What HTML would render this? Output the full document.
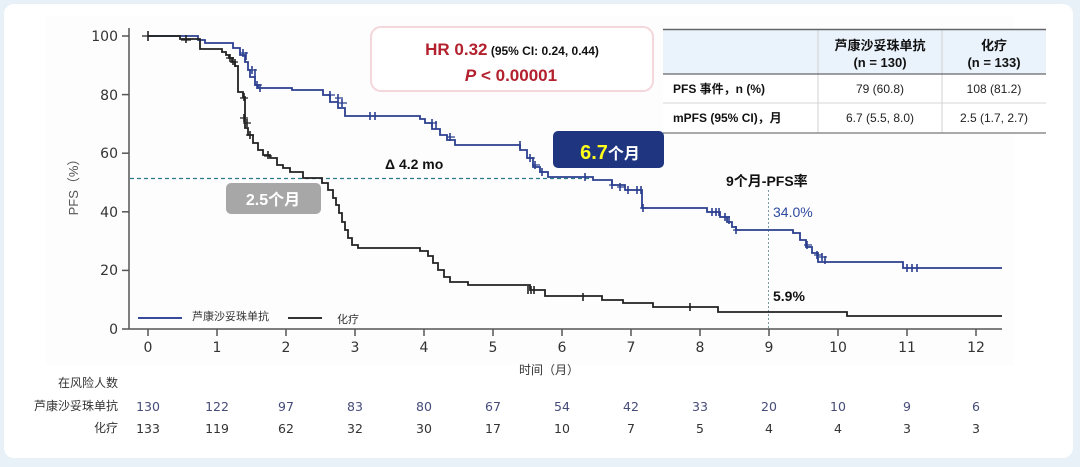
<!DOCTYPE html>
<html><head><meta charset="utf-8">
<style>
html,body{margin:0;padding:0;background:#e8f0f8;}
svg{display:block;}
.cn{font-family:"Liberation Sans","Noto Sans CJK SC",sans-serif;}
.dj{font-family:"DejaVu Sans","Liberation Sans",sans-serif;}
</style></head>
<body>
<svg width="1080" height="467" viewBox="0 0 1080 467" xmlns="http://www.w3.org/2000/svg">
<rect x="0" y="0" width="1080" height="467" fill="#e8f0f8"/>
<rect x="4" y="4" width="1069" height="454" rx="10" fill="#ffffff"/>
<rect x="46" y="16" width="968" height="349" fill="#fdfdfd"/>

<!-- HR box -->
<rect x="371" y="27" width="282" height="64" rx="10" fill="#fff" stroke="#f3d7da" stroke-width="2"/>
<text x="512" y="55" text-anchor="middle" class="cn" font-weight="bold"><tspan font-size="17" fill="#b3202e">HR 0.32</tspan><tspan font-size="12" fill="#111"> (95% CI: 0.24, 0.44)</tspan></text>
<text x="511" y="81" text-anchor="middle" class="cn" font-weight="bold" font-size="17" fill="#b3202e"><tspan font-style="italic">P</tspan> &lt; 0.00001</text>

<!-- Table -->
<rect x="663" y="29" width="383" height="104" fill="#ffffff"/>
<rect x="663" y="29" width="383" height="45" fill="#eaf3fc"/>
<line x1="818" y1="29" x2="818" y2="133" stroke="#d0d0d0" stroke-width="1"/>
<line x1="942" y1="29" x2="942" y2="133" stroke="#d0d0d0" stroke-width="1"/>
<line x1="663" y1="29.5" x2="1046" y2="29.5" stroke="#666" stroke-width="1.5"/>
<line x1="663" y1="74" x2="1046" y2="74" stroke="#666" stroke-width="1.2"/>
<line x1="663" y1="103" x2="1046" y2="103" stroke="#d4d4d4" stroke-width="1"/>
<line x1="663" y1="133" x2="1046" y2="133" stroke="#777" stroke-width="1.2"/>
<g class="cn" font-weight="bold" font-size="13" fill="#111" text-anchor="middle">
<text x="880" y="50">芦康沙妥珠单抗</text>
<text x="880" y="67">(n = 130)</text>
<text x="994" y="50">化疗</text>
<text x="994" y="67">(n = 133)</text>
</g>
<g class="cn" font-weight="bold" font-size="12" fill="#111">
<text x="673" y="93">PFS 事件，n (%)</text>
<text x="673" y="122">mPFS (95% CI)，月</text>
</g>
<g class="cn" font-size="12" fill="#222" text-anchor="middle">
<text x="880" y="93">79 (60.8)</text>
<text x="994" y="93">108 (81.2)</text>
<text x="880" y="122">6.7 (5.5, 8.0)</text>
<text x="994" y="122">2.5 (1.7, 2.7)</text>
</g>

<!-- Axes -->
<g stroke="#555" stroke-width="1.5" fill="none">
<line x1="129" y1="28" x2="129" y2="329.5"/>
<line x1="122" y1="329" x2="1002" y2="329"/>
<line x1="122" y1="36" x2="129" y2="36"/>
<line x1="122" y1="94.6" x2="129" y2="94.6"/>
<line x1="122" y1="153.2" x2="129" y2="153.2"/>
<line x1="122" y1="211.8" x2="129" y2="211.8"/>
<line x1="122" y1="270.4" x2="129" y2="270.4"/>
<line x1="148" y1="329" x2="148" y2="336"/>
<line x1="217" y1="329" x2="217" y2="336"/>
<line x1="286" y1="329" x2="286" y2="336"/>
<line x1="355" y1="329" x2="355" y2="336"/>
<line x1="424" y1="329" x2="424" y2="336"/>
<line x1="493" y1="329" x2="493" y2="336"/>
<line x1="562" y1="329" x2="562" y2="336"/>
<line x1="631" y1="329" x2="631" y2="336"/>
<line x1="700" y1="329" x2="700" y2="336"/>
<line x1="769" y1="329" x2="769" y2="336"/>
<line x1="838" y1="329" x2="838" y2="336"/>
<line x1="907" y1="329" x2="907" y2="336"/>
<line x1="976" y1="329" x2="976" y2="336"/>
</g>
<g class="dj" font-size="14" fill="#333" text-anchor="end">
<text x="118" y="41">100</text>
<text x="118" y="100">80</text>
<text x="118" y="158">60</text>
<text x="118" y="217">40</text>
<text x="118" y="275">20</text>
<text x="118" y="334">0</text>
</g>
<g class="dj" font-size="14" fill="#333" text-anchor="middle">
<text x="148" y="352">0</text>
<text x="217" y="352">1</text>
<text x="286" y="352">2</text>
<text x="355" y="352">3</text>
<text x="424" y="352">4</text>
<text x="493" y="352">5</text>
<text x="562" y="352">6</text>
<text x="631" y="352">7</text>
<text x="700" y="352">8</text>
<text x="769" y="352">9</text>
<text x="838" y="352">10</text>
<text x="907" y="352">11</text>
<text x="976" y="352">12</text>
</g>
<text x="549" y="374" text-anchor="middle" class="cn" font-size="12" fill="#333">时间（月）</text>
<text transform="translate(78,184) rotate(-90)" text-anchor="middle" class="cn" font-size="13" fill="#555">PFS（%）</text>

<!-- reference lines -->
<line x1="130" y1="178.5" x2="590" y2="178.5" stroke="#2a7a8c" stroke-width="1.2" stroke-dasharray="4,3"/>
<line x1="768.5" y1="190" x2="768.5" y2="329" stroke="#7a9aa8" stroke-width="1" stroke-dasharray="2,2"/>

<!-- curves -->
<path fill="none" stroke="#2b3f8f" stroke-width="1.8" d="M148,36 H198 V40 H205 V43 H233 V48 H240 V55 H245 V62 H248 V70 H250 V77 H255 V85 H258 V88 H292 V90 H323 V95 H330 V102 H338 V108 H345 V116 H420 V119 H425 V123 H432 V129 H440 V135 H447 V140 H455 V145 H520 V150 H527 V158 H533 V167 H540 V172 H548 V177 H593 V180 H612 V185 H625 V190 H642 V208 H707 V212 H720 V217 H727 V222 H732 V227 H736 V230 H793 V233 H800 V240 H806 V247 H812 V253 H818 V262 H903 V268 H1002"/>
<path fill="none" stroke="#222" stroke-width="1.8" d="M148,36 H180 V39 H200 V49 H222 V52 H226 V55 H229 V58 H232 V62 H235 V66 H238 V92 H243 V97 H245 V128 H248 V135 H253 V143 H258 V150 H263 V155 H270 V158 H277 V165 H283 V168 H290 V172 H303 V178 H322 V183 H328 V190 H333 V198 H336 V205 H339 V213 H342 V222 H345 V230 H348 V238 H352 V245 H358 V248 H420 V251 H428 V256 H433 V263 H438 V270 H444 V277 H450 V282 H468 V285 H530 V290 H545 V296 H602 V300 H623 V303 H653 V307 H718 V312 H847 V316 H1002"/>

<!-- censor marks blue -->
<g stroke="#2b3f8f" stroke-width="1.6">
<path d="M243,49v8 M246,52v8 M252,66v8 M255,69v8 M257,81v8 M260,84v8 M330,91v8 M338,94v8 M342,99v8 M370,112v8 M375,112v8 M432,119v8 M436,121v8 M450,133v8 M520,141v8 M530,154v8 M535,161v8 M542,168v8 M585,173v8 M612,181v8 M620,183v8 M628,186v8 M637,186v8 M641,186v8 M643,204v8 M712,208v8 M716,208v8 M719,208v8 M725,213v8 M729,216v8 M736,226v8 M807,241v8 M817,251v8 M822,253v8 M825,256v8 M907,264v8 M912,264v8 M917,264v8"/>
</g>
<g stroke="#2b3f8f" stroke-width="1.2">
<path d="M240,53h8 M249,70h8 M254,85h8 M327,95h8 M335,98h8 M339,103h8 M429,123h8 M447,137h8 M527,158h8 M532,165h8 M539,172h8 M609,185h8 M617,187h8 M625,190h8 M634,190h8 M640,208h8 M709,212h8 M722,217h8 M733,230h8 M804,245h8 M814,255h8 M819,257h8"/>
</g>
<!-- censor marks black -->
<g stroke="#222" stroke-width="1.6">
<path d="M148,31v10 M186,35v8 M230,54v8 M233,57v8 M235,59v8 M244,93v8 M244,114v8 M247,119v8 M250,131v8 M268,151v8 M528,286v8 M531,286v8 M534,286v8 M583,293v8 M690,303v8"/>
</g>
<g stroke="#222" stroke-width="1.2">
<path d="M142,36h12 M181,40h10 M226,58h8 M230,62h8 M240,98h8 M240,118h8 M243,123h8 M246,135h8 M264,156h8"/>
</g>

<!-- annotations -->
<text x="385" y="169" class="cn" font-weight="bold" font-size="14" fill="#111">Δ 4.2 mo</text>
<rect x="226" y="183" width="95" height="31" rx="5" fill="#a7a7a7"/>
<text x="273" y="205" text-anchor="middle" class="cn" font-weight="bold" font-size="16" fill="#fff">2.5个月</text>
<rect x="553" y="131" width="111" height="37" rx="5" fill="#1f3580"/>
<text x="610" y="159" text-anchor="middle" class="cn" font-weight="bold"><tspan font-size="20" fill="#ffff1a">6.7</tspan><tspan font-size="16" fill="#fff">个月</tspan></text>
<text x="726" y="186" class="cn" font-weight="bold" font-size="14" fill="#111">9个月-PFS率</text>
<text x="773" y="217" class="cn" font-size="14" fill="#2f4aa0">34.0%</text>
<text x="773" y="301" class="cn" font-weight="bold" font-size="14" fill="#111">5.9%</text>

<!-- legend -->
<line x1="138" y1="318" x2="182" y2="318" stroke="#3a4a9a" stroke-width="2"/>
<text x="192" y="320" class="cn" font-size="11" fill="#333">芦康沙妥珠单抗</text>
<line x1="288" y1="318" x2="322" y2="318" stroke="#333" stroke-width="2"/>
<text x="337" y="323" class="cn" font-size="11" fill="#333">化疗</text>

<!-- risk table -->
<g class="cn" font-size="12" fill="#333" text-anchor="end">
<text x="118" y="387">在风险人数</text>
<text x="118" y="410">芦康沙妥珠单抗</text>
<text x="118" y="432">化疗</text>
</g>
<g class="dj" font-size="12.5" fill="#464c78" text-anchor="middle">
<text x="148" y="411">130</text>
<text x="217" y="411">122</text>
<text x="286" y="411">97</text>
<text x="355" y="411">83</text>
<text x="424" y="411">80</text>
<text x="493" y="411">67</text>
<text x="562" y="411">54</text>
<text x="631" y="411">42</text>
<text x="700" y="411">33</text>
<text x="769" y="411">20</text>
<text x="838" y="411">10</text>
<text x="907" y="411">9</text>
<text x="976" y="411">6</text>
</g>
<g class="dj" font-size="12.5" fill="#333" text-anchor="middle">
<text x="148" y="433">133</text>
<text x="217" y="433">119</text>
<text x="286" y="433">62</text>
<text x="355" y="433">32</text>
<text x="424" y="433">30</text>
<text x="493" y="433">17</text>
<text x="562" y="433">10</text>
<text x="631" y="433">7</text>
<text x="700" y="433">5</text>
<text x="769" y="433">4</text>
<text x="838" y="433">4</text>
<text x="907" y="433">3</text>
<text x="976" y="433">3</text>
</g>
</svg>
</body></html>
